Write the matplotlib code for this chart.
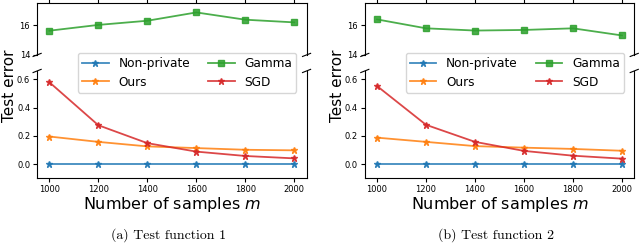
import numpy as np
import matplotlib
matplotlib.use("Agg")
import matplotlib.pyplot as plt

# number of samples
m_vals = [1000, 1200, 1400, 1600, 1800, 2000]

# test function 1
nonpriv_1 = [0.0, 0.0, 0.0, 0.0, 0.0, 0.0]
ours_1 = [0.195, 0.157, 0.125, 0.113, 0.101, 0.097]
gamma_1 = [15.63, 16.02, 16.30, 16.86, 16.37, 16.19]
sgd_1 = [0.58, 0.275, 0.148, 0.088, 0.057, 0.040]

# test function 2
nonpriv_2 = [0.0, 0.0, 0.0, 0.0, 0.0, 0.0]
ours_2 = [0.187, 0.157, 0.127, 0.116, 0.107, 0.094]
gamma_2 = [16.39, 15.79, 15.64, 15.68, 15.79, 15.31]
sgd_2 = [0.553, 0.278, 0.157, 0.093, 0.059, 0.038]

captions = ["(a) Test function 1", "(b) Test function 2"]
panels = [
    (nonpriv_1, ours_1, gamma_1, sgd_1),
    (nonpriv_2, ours_2, gamma_2, sgd_2),
]

fig = plt.figure(figsize=(6.4, 2.43), dpi=100)

lefts = [0.058, 0.570]
width = 0.421

for k, (nonpriv, ours, gamma, sgd) in enumerate(panels):
    ax_top = fig.add_axes([lefts[k], 0.774, width, 0.214])
    ax_bot = fig.add_axes([lefts[k], 0.267, width, 0.441])

    kw = dict(lw=1.3, ms=5, alpha=0.85)
    l1, = ax_bot.plot(m_vals, nonpriv, marker="*", color="C0", label="Non-private", **kw)
    l2, = ax_bot.plot(m_vals, ours, marker="*", color="C1", label="Ours", **kw)
    l4, = ax_bot.plot(m_vals, sgd, marker="*", color="C3", label="SGD", **kw)
    l3, = ax_top.plot(m_vals, gamma, marker="s", color="C2", label="Gamma", lw=1.3, ms=4.5, alpha=0.85)

    ax_top.set_ylim(14, 17.5)
    ax_top.set_yticks([14, 16])
    ax_bot.set_ylim(-0.1, 0.66)
    ax_bot.set_yticks([0.0, 0.2, 0.4, 0.6])
    for ax in (ax_top, ax_bot):
        ax.set_xlim(950, 2050)
        ax.set_xticks(m_vals)
        ax.tick_params(labelsize=6, length=3, pad=2)

    ax_top.spines["bottom"].set_visible(False)
    ax_bot.spines["top"].set_visible(False)
    ax_top.xaxis.tick_top()
    ax_top.tick_params(labeltop=False)
    ax_bot.xaxis.tick_bottom()

    # break marks
    d = 0.015
    kwargs = dict(transform=ax_top.transAxes, color="k", clip_on=False, lw=0.8)
    ax_top.plot((-d, +d), (-d * 2, +d * 2), **kwargs)
    ax_top.plot((1 - d, 1 + d), (-d * 2, +d * 2), **kwargs)
    kwargs.update(transform=ax_bot.transAxes)
    ax_bot.plot((-d, +d), (1 - d, 1 + d), **kwargs)
    ax_bot.plot((1 - d, 1 + d), (1 - d, 1 + d), **kwargs)

    ax_bot.set_xlabel("Number of samples $m$", fontsize=11.5, labelpad=1)
    fig.text(lefts[k] - 0.043, 0.646, "Test error", rotation=90, fontsize=11,
             ha="center", va="center")

    ax_bot.legend(handles=[l1, l2, l3, l4], ncol=2, fontsize=8.7,
                  loc="upper right", bbox_to_anchor=(0.985, 1.225),
                  handlelength=2.2, columnspacing=1.5, borderpad=0.35,
                  labelspacing=0.45)

    fig.text(lefts[k] + width / 2 - 0.005, 0.033, captions[k], fontsize=10,
             family="cmr10", ha="center", va="center")

fig.savefig("out.png", dpi=100)
